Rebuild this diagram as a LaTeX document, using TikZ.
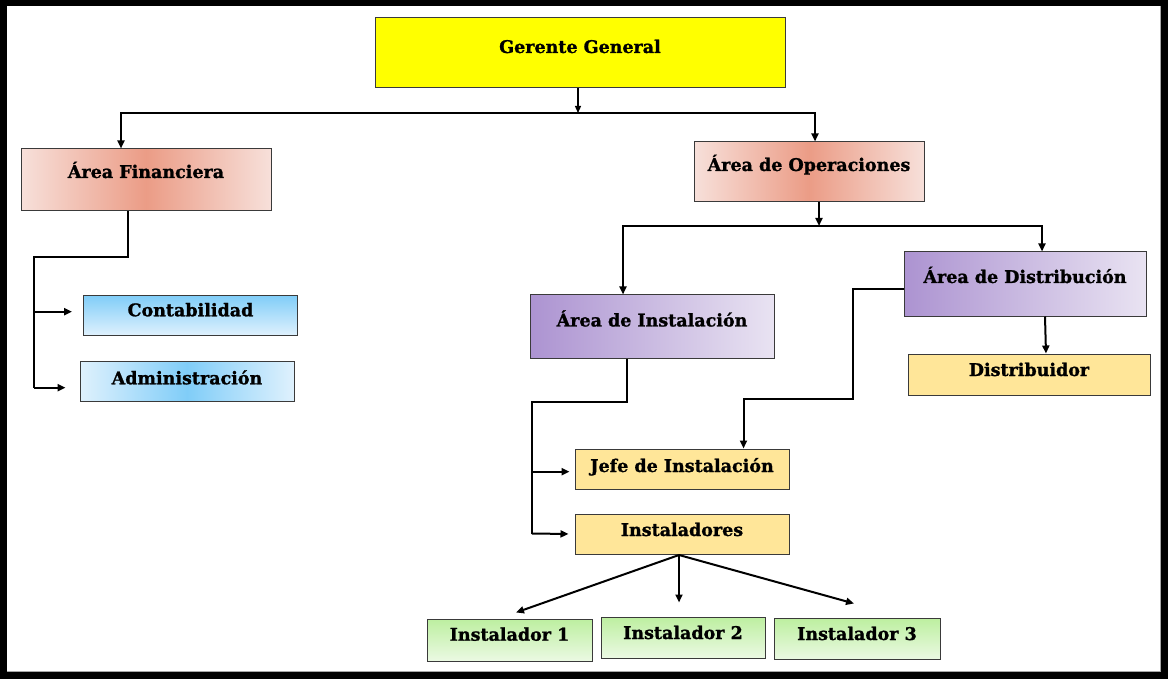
\documentclass[tikz,border=0pt]{standalone}
\usepackage{fontspec}
\setmainfont{DejaVu Serif}
\newfontfamily\heavy[FakeBold=1.2]{DejaVu Serif Bold}
\usetikzlibrary{arrows.meta}
\definecolor{bordergray}{HTML}{3A3A3A}
\definecolor{pureyellow}{HTML}{FFFF00}
\definecolor{salmonc}{HTML}{EB9C86}
\definecolor{salmonl}{HTML}{F7E0DA}
\definecolor{purpd}{HTML}{AC93D1}
\definecolor{purpl}{HTML}{E9E3F2}
\definecolor{blued}{HTML}{80CDF8}
\definecolor{bluel}{HTML}{DFF1FD}
\definecolor{greend}{HTML}{BDEFA0}
\definecolor{greenl}{HTML}{EBF9E3}
\definecolor{sand}{HTML}{FFE699}
\tikzset{
  box/.style={draw=bordergray, line width=1pt, inner sep=0pt, text height=12pt,
    font=\heavy\fontsize{17.5}{20}\selectfont},
  salmonbox/.style={box, left color=salmonl, right color=salmonl, middle color=salmonc},
  purplebox/.style={box, left color=purpd, right color=purpl},
  bluevbox/.style={box, top color=blued, bottom color=bluel},
  bluerbox/.style={box, left color=bluel, right color=bluel, middle color=blued},
  sandbox/.style={box, fill=sand},
  greenbox/.style={box, top color=greend, bottom color=greenl},
  conn/.style={line width=2pt, black},
  arr/.style={conn, -{Triangle[length=8pt,width=7pt]}},
  thinarr/.style={line width=1.2pt, black, -{Triangle[length=7pt,width=6pt]}}
}
\begin{document}
\begin{tikzpicture}[x=1pt,y=-1pt]
\useasboundingbox (0,0) rectangle (1168,679);
\fill[black] (0,0) rectangle (1168,679);
\fill[white] (7,6) rectangle (1161,672);
\draw[gray!70, line width=1pt] (1160.5,6) -- (1160.5,671.5) -- (7,671.5);

% nodes
\node[box, fill=pureyellow, minimum width=410pt, minimum height=70pt, text depth=12pt] (gg) at (580,53) {Gerente General};
\node[salmonbox, minimum width=250pt, minimum height=62pt, text depth=16pt] (fin) at (146,180) {Área Financiera};
\node[salmonbox, minimum width=230pt, minimum height=60pt, text depth=14pt] (ops) at (809,172) {Área de Operaciones};
\node[purplebox, minimum width=244pt, minimum height=63pt, text depth=12pt] (ins) at (652,326.5) {Área de Instalación};
\node[purplebox, minimum width=242pt, minimum height=64pt, text depth=14pt] (dis) at (1025,284) {Área de Distribución};
\node[sandbox, minimum width=242pt, minimum height=41pt, text depth=9pt] (dbr) at (1029,374.5) {Distribuidor};
\node[sandbox, minimum width=214pt, minimum height=40pt, text depth=6pt] (jefe) at (682,469) {Jefe de Instalación};
\node[sandbox, minimum width=214pt, minimum height=40pt, text depth=8pt] (insts) at (682,534) {Instaladores};
\node[greenbox, minimum width=165pt, minimum height=42pt, text depth=10.6pt] (i1) at (509.5,640) {Instalador 1};
\node[greenbox, minimum width=164pt, minimum height=41pt, text depth=9pt] (i2) at (683,637.5) {Instalador 2};
\node[greenbox, minimum width=166pt, minimum height=41pt, text depth=10pt] (i3) at (857,639) {Instalador 3};
\node[bluevbox, minimum width=214pt, minimum height=40pt, text depth=10pt] (cont) at (190.5,315.3) {Contabilidad};
\node[bluerbox, minimum width=214pt, minimum height=40pt, text depth=6pt] (adm) at (187,381.3) {Administración};

% junction coordinates
\coordinate (gj) at (578,113);
\coordinate (oj) at (819,226);
\coordinate (fa) at (128,257);
\coordinate (fb) at (34,257);
\coordinate (fc) at (34,387.7);
\coordinate (ia) at (627,402);
\coordinate (ib) at (532,402);
\coordinate (ic) at (532,533.5);
\coordinate (da) at (852.5,289.3);
\coordinate (db) at (852.5,399);
\coordinate (dc) at (743.5,399);
\coordinate (fan) at (679,555);

% Gerente General
\draw[thinarr] ([xshift=-2pt]gg.south) -- (gj);
\draw[conn] (121,113) -- (815,113);
\draw[arr] (gj) -| ([xshift=-25pt]fin.north);
\draw[arr] (gj) -| ([xshift=6pt]ops.north);

% Operaciones
\draw[arr] ([xshift=10pt]ops.south) -- (oj);
\draw[conn] (623,226) -- (1042,226);
\draw[arr] (oj) -| ([xshift=-29pt]ins.north);
\draw[arr] (oj) -| ([xshift=17pt]dis.north);

% Distribucion
\draw[arr] ([xshift=20pt]dis.south) -- ([xshift=17pt]dbr.north);
\draw[arr] ([yshift=-5.3pt]dis.west) -- (da) -- (db) -- (dc) -- ([xshift=61.5pt]jefe.north);

% Instalacion
\draw[conn] ([xshift=-25pt]ins.south) -- (ia) -- (ib) -- (ic);
\draw[arr] (532,471.7) -- ([xshift=-5pt,yshift=-2.7pt]jefe.west);
\draw[arr] (ic) -- ([xshift=-6pt]insts.west);

% Instaladores fan
\draw[arr] (fan) -- ([xshift=6.5pt,yshift=6pt]i1.north);
\draw[arr] (fan) -- ([xshift=-4pt,yshift=14pt]i2.north);
\draw[arr] (fan) -- ([xshift=-3pt,yshift=14.5pt]i3.north);

% Financiera
\draw[conn] ([xshift=-18pt]fin.south) -- (fa) -- (fb) -- (fc);
\draw[arr] (34,311.7) -- ([xshift=-11pt,yshift=3.6pt]cont.west);
\draw[arr] (fc) -- ([xshift=-14pt,yshift=-6.4pt]adm.west);
\end{tikzpicture}
\end{document}
